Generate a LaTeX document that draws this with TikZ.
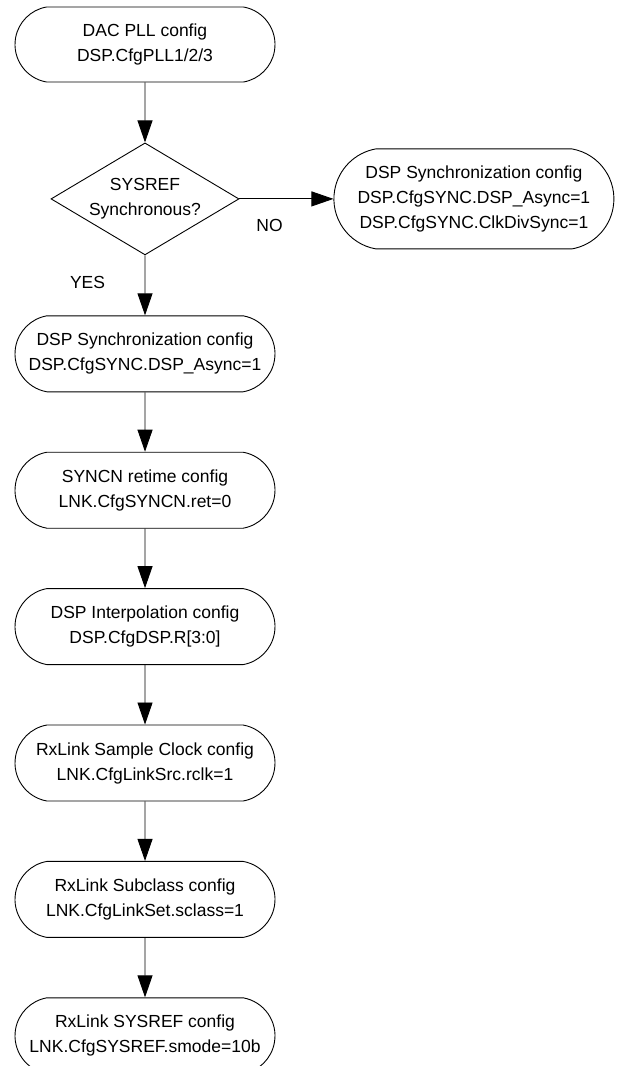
\documentclass[tikz,border=0pt]{standalone}
\usepackage{fontspec}
\setmainfont{Liberation Sans}
\usetikzlibrary{positioning,shapes.geometric,shapes.misc,arrows.meta}

\begin{document}
\begin{tikzpicture}[
        x=1pt, y=1pt,
        font=\fontsize{17.5pt}{25pt}\selectfont,
        term/.style={draw, rounded rectangle, rounded rectangle arc length=160,
            align=center, line width=0.9pt,
            minimum width=264pt, minimum height=76pt, inner sep=2pt},
        decision/.style={draw, diamond, aspect=1.68, align=center, line width=0.9pt,
            minimum width=188pt, minimum height=112pt, inner sep=0pt},
        lbl/.style={inner sep=0pt},
        arr/.style={-{Triangle[length=22pt, width=15pt]}, line width=0.9pt},
        node distance=59.5pt,
    ]
        \useasboundingbox (0,0) rectangle (619,-1066);

        % PLL and SYSREF decision
        \node[term, minimum height=75pt] (pll) at (145,-44.5) {DAC PLL config\\ DSP.CfgPLL1/2/3};
        \node[decision, below=60pt of pll] (sysref) {SYSREF\\ Synchronous?};
        \node[term, right=94pt of sysref, minimum width=284pt, minimum height=100pt] (syncno)
            {DSP Synchronization config\\ DSP.CfgSYNC.DSP\_Async=1\\ DSP.CfgSYNC.ClkDivSync=1};

        % YES branch
        \node[term, below=60pt of sysref] (syncyes) {DSP Synchronization config\\ DSP.CfgSYNC.DSP\_Async=1};
        \node[term, below=of syncyes] (retime) {SYNCN retime config\\ LNK.CfgSYNCN.ret=0};
        \node[term, below=of retime] (interp) {DSP Interpolation config\\ DSP.CfgDSP.R[3:0]};
        \node[term, below=of interp] (rclk) {RxLink Sample Clock config\\ LNK.CfgLinkSrc.rclk=1};
        \node[term, below=of rclk] (sclass) {RxLink Subclass config\\ LNK.CfgLinkSet.sclass=1};
        \node[term, below=of sclass] (smode) {RxLink SYSREF config\\ LNK.CfgSYSREF.smode=10b};

        \draw[arr] (pll) -- (sysref);
        \draw[arr] (sysref) -- node[lbl, pos=0.32, below=19.5pt]{NO} (syncno);
        \draw[arr] (sysref) -- node[lbl, pos=0.45, left=39.5pt]{YES} (syncyes);
        \draw[arr] (syncyes) -- (retime);
        \draw[arr] (retime) -- (interp);
        \draw[arr] (interp) -- (rclk);
        \draw[arr] (rclk) -- (sclass);
        \draw[arr] (sclass) -- (smode);
    \end{tikzpicture}
\end{document}
